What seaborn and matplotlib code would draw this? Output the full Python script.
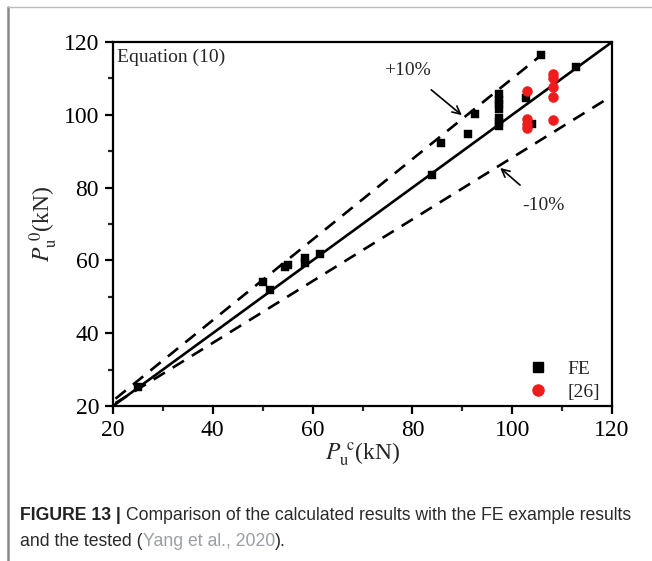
import matplotlib
matplotlib.use("Agg")
import matplotlib.pyplot as plt
from matplotlib.lines import Line2D
from matplotlib.ticker import MultipleLocator
import seaborn as sns
import pandas as pd

# ---- data ----
fe_x = [25, 50.1, 51.5, 54.5, 55.1, 58.5, 58.5, 61.5, 83.9, 85.7, 91.1, 92.5,
        97.4, 97.4, 97.4, 97.4, 97.4, 97.4, 97.4, 102.8, 104.0, 105.8, 112.8]
fe_y = [25.1, 54.0, 51.9, 58.2, 58.7, 60.7, 59.4, 61.8, 83.5, 92.3, 94.7, 100.2,
        97.0, 98.0, 99.2, 101.6, 103.0, 104.2, 105.6, 104.6, 97.5, 116.3, 113.2]
ref_x = [103, 103, 103, 103, 108.2, 108.2, 108.2, 108.2, 108.2]
ref_y = [106.5, 98.8, 97.6, 96.4, 111.1, 110.1, 107.6, 104.9, 98.6]

line_x = [20, 120]
line_y = [20, 120]
upper_x = [20.5, 107]
upper_y = [22.0, 117.7]
lower_x = [20.5, 120]
lower_y = [20.8, 105.2]

xticks = [20, 40, 60, 80, 100, 120]
yticks = [20, 40, 60, 80, 100, 120]

sns.set_theme(style="ticks")
plt.rcParams["font.family"] = ["Liberation Serif", "DejaVu Serif"]
plt.rcParams["mathtext.fontset"] = "stix"

fig = plt.figure(figsize=(6.52, 5.61), dpi=100)
ax = fig.add_axes([113 / 652, 1 - 406 / 561, (612 - 113) / 652, (406 - 42) / 561])

sns.lineplot(x=line_x, y=line_y, ax=ax, color="black", lw=1.9, zorder=2)
sns.lineplot(x=upper_x, y=upper_y, ax=ax, color="black", lw=1.9, zorder=2)
sns.lineplot(x=lower_x, y=lower_y, ax=ax, color="black", lw=1.9, zorder=2)
ax.lines[1].set_dashes([5, 3.5])
ax.lines[2].set_dashes([5, 3.5])

fe = pd.DataFrame({"x": fe_x, "y": fe_y})
rf = pd.DataFrame({"x": ref_x, "y": ref_y})
sns.scatterplot(data=fe, x="x", y="y", ax=ax, marker="s", s=40, color="black",
                edgecolor="black", linewidth=0.3, zorder=3)
sns.scatterplot(data=rf, x="x", y="y", ax=ax, marker="o", s=52, color="#ee1c1c",
                edgecolor="#ee1c1c", linewidth=0.3, zorder=4)

ax.set_xlim(20, 120)
ax.set_ylim(20, 120)
ax.set_xticks(xticks)
ax.set_yticks(yticks)
ax.xaxis.set_minor_locator(MultipleLocator(10))
ax.yaxis.set_minor_locator(MultipleLocator(10))
ax.tick_params(which="major", direction="out", length=6, width=1.6, labelsize=17,
               colors="black", pad=4, top=False, right=False)
ax.tick_params(which="minor", direction="out", length=3.5, width=1.6,
               top=False, right=False)
for sp in ax.spines.values():
    sp.set_linewidth(1.6)
    sp.set_color("black")

ax.set_xlabel(r"$P_{\mathrm{u}}^{\ \mathrm{c}}$(kN)", fontsize=17, labelpad=0)
ax.set_ylabel(r"$P_{\mathrm{u}}^{\ \mathrm{0}}$(kN)", fontsize=17, labelpad=3)

ax.text(20.9, 115.9, "Equation (10)", fontsize=14, va="center", ha="left")

ax.annotate("+10%", xy=(89.9, 99.9), xytext=(79, 112.3), fontsize=14,
            ha="center", va="center",
            arrowprops=dict(arrowstyle="->", color="black", lw=1.2,
                            shrinkA=9, shrinkB=0, mutation_scale=14))
ax.annotate("-10%", xy=(97.6, 85.4), xytext=(106.2, 75.2), fontsize=14,
            ha="center", va="center",
            arrowprops=dict(arrowstyle="->", color="black", lw=1.2,
                            shrinkA=9, shrinkB=0, mutation_scale=14))

handles = [Line2D([], [], marker="s", color="black", ls="", markersize=7),
           Line2D([], [], marker="o", color="#ee1c1c", ls="", markersize=8)]
ax.legend(handles, ["FE", "[26]"], loc="lower right", frameon=False, fontsize=14,
          handletextpad=0.5, borderaxespad=0.0, borderpad=0.25, labelspacing=0.3,
          bbox_to_anchor=(0.985, 0.0))

# frame lines around the figure panel
fig.add_artist(Line2D([8 / 652, 8 / 652], [0, 1 - 7 / 561], color="#888888", lw=1.8,
                      transform=fig.transFigure))
fig.add_artist(Line2D([8 / 652, 1], [1 - 7 / 561, 1 - 7 / 561], color="#bbbbbb", lw=1.0,
                      transform=fig.transFigure))

# caption
cap_font = ["Liberation Sans", "DejaVu Sans"]
fs = 12.7
y1 = 1 - 516 / 561
y2 = 1 - 541 / 561
t1 = fig.text(20 / 652, y1, "FIGURE 13 | ", fontsize=fs, fontweight="bold",
              family=cap_font, va="center", ha="left", color="#222222")
fig.canvas.draw()
bb = t1.get_window_extent()
fig.text(bb.x1 / fig.bbox.width, y1,
         "Comparison of the calculated results with the FE example results",
         fontsize=fs, family=cap_font, va="center", ha="left", color="#2a2a2a")
t3 = fig.text(20 / 652, y2, "and the tested (", fontsize=fs, family=cap_font,
              va="center", ha="left", color="#2a2a2a")
fig.canvas.draw()
bb = t3.get_window_extent()
t4 = fig.text(bb.x1 / fig.bbox.width, y2, "Yang et al., 2020", fontsize=fs,
              family=cap_font, va="center", ha="left", color="#9a9fa6")
fig.canvas.draw()
bb = t4.get_window_extent()
fig.text(bb.x1 / fig.bbox.width, y2, ").", fontsize=fs, family=cap_font,
         va="center", ha="left", color="#2a2a2a")

fig.savefig("out.png", dpi=100, facecolor="white")
